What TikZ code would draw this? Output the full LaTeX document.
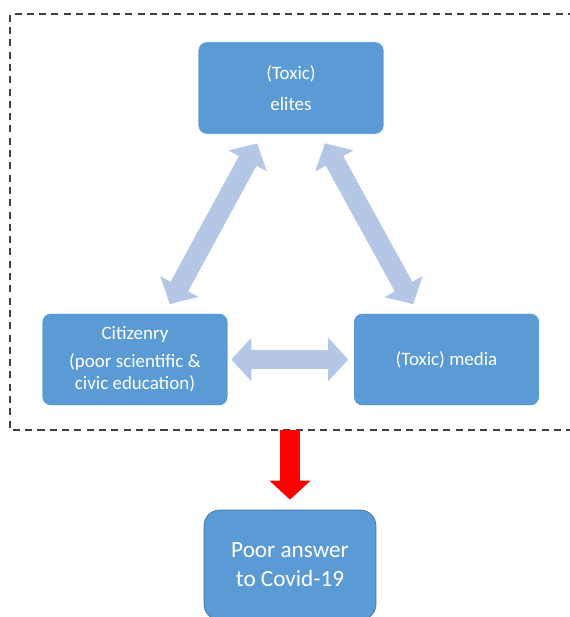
\documentclass[tikz,border=0pt]{standalone}
\usepackage{fontspec}
\setmainfont{Carlito}
\usetikzlibrary{arrows.meta,positioning,calc}
\definecolor{boxblue}{RGB}{91,155,213}
\definecolor{boxline}{RGB}{65,113,156}
\definecolor{linkblue}{RGB}{180,199,231}
\definecolor{framegray}{RGB}{64,64,64}
\tikzset{
  actor/.style={rectangle,rounded corners=5pt,draw=white,thin,fill=boxblue,text=white,
    minimum width=3.72cm,minimum height=1.85cm,align=center,font=\fontsize{10.8}{12.4}\selectfont},
  outcome/.style={actor,draw=boxline,minimum width=3.44cm,minimum height=2.2cm,
    rounded corners=9pt,font=\fontsize{13.2}{16.5}\selectfont},
  dbl/.style={{Triangle[width=0.85cm,length=0.4cm]}-{Triangle[width=0.85cm,length=0.4cm]},
    line width=0.4cm,draw=linkblue,shorten <=0.2cm,shorten >=0.2cm},
  cause/.style={-{Triangle[width=0.8cm,length=0.38cm]},line width=0.4cm,draw=red},
  frame/.style={draw=framegray,thick,dash pattern=on 4pt off 3pt},
}
\begin{document}
\begin{tikzpicture}[x=0.02cm,y=-0.02cm]
\useasboundingbox (0,0) rectangle (569,617);
% dashed frame round the triangle (right side cut off)
\coordinate (fbl) at (10,430);
\coordinate (fout) at (290,430);
\draw[frame] (575,14) -- (10,14) -- (fbl) -- (575,430);

\node[actor] (elites) at (291,88) {(Toxic)\\[0.18cm]elites};
\node[actor] (cit) at (135,359.5) {Citizenry\\[0.12cm](poor scientific \&\\civic education)};
\node[actor] (media) at (446.5,359.5) {(Toxic) media};
\node[outcome] (covid) at (290,565) {Poor answer\\to Covid-19};

% mutual influences
\draw[dbl] ([xshift=-0.58cm]elites.south) -- ([xshift=0.6cm]cit.north);
\draw[dbl] ([xshift=0.58cm]elites.south) -- ([xshift=-0.57cm]media.north);
\draw[dbl,shorten <=0.06cm,shorten >=0.1cm] (cit.east) -- (media.west);

% result
\draw[cause,shorten >=0.2cm] (fout) -- (covid.north);
\end{tikzpicture}
\end{document}
